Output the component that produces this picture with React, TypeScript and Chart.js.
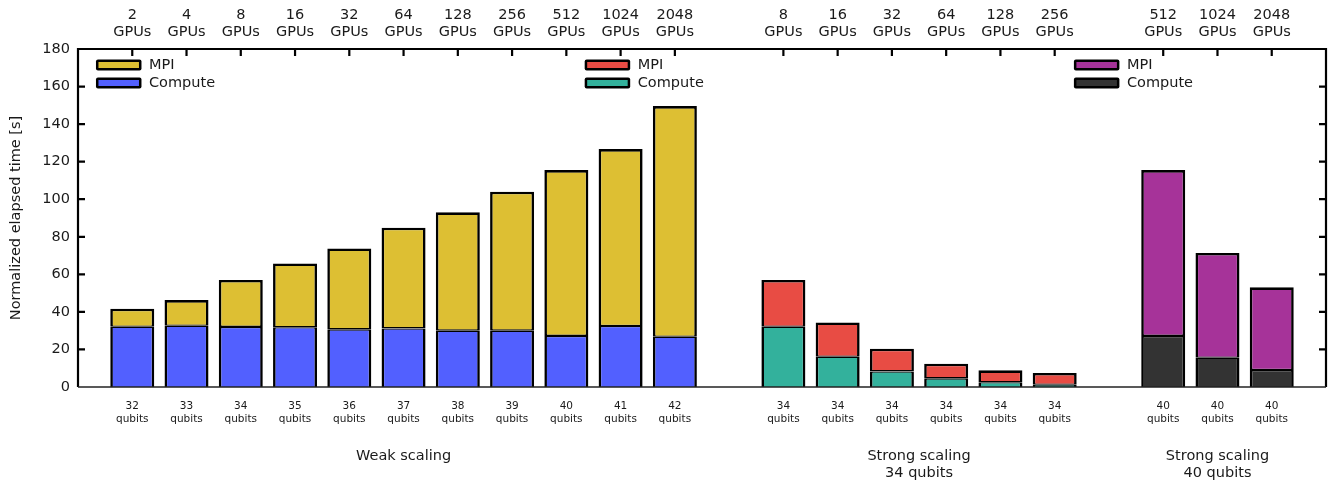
import React, { useEffect, useRef } from "react";
import { Chart, registerables } from "chart.js";

Chart.register(...registerables);

// ---- Data ----
const weakGpus = ["2", "4", "8", "16", "32", "64", "128", "256", "512", "1024", "2048"];
const weakQubits = ["32", "33", "34", "35", "36", "37", "38", "39", "40", "41", "42"];
const weakCompute = [32.1, 32.6, 32.0, 31.8, 30.7, 31.2, 30.0, 30.0, 27.2, 32.5, 26.8];
const weakMpi = [9.6, 13.7, 25.0, 34.0, 43.1, 53.6, 63.0, 74.0, 88.3, 94.2, 122.8];

const strong34Gpus = ["8", "16", "32", "64", "128", "256"];
const strong34Qubits = ["34", "34", "34", "34", "34", "34"];
const strong34Compute = [32.1, 16.1, 8.3, 4.6, 2.5, 1.2];
const strong34Mpi = [24.9, 18.3, 12.1, 7.8, 6.4, 6.3];

const strong40Gpus = ["512", "1024", "2048"];
const strong40Qubits = ["40", "40", "40"];
const strong40Compute = [27.2, 15.6, 9.0];
const strong40Mpi = [88.3, 55.8, 44.1];

const groupTitles = [["Weak scaling"], ["Strong scaling", "34 qubits"], ["Strong scaling", "40 qubits"]];
const seriesNames = ["MPI", "Compute"];
const yTitle = "Normalized elapsed time [s]";
const gpuUnit = "GPUs";
const qubitUnit = "qubits";

// ---- Styles ----
const FONT = "'DejaVu Sans', 'Noto Sans', sans-serif";
const TEXT = "#1a1a1a";
const BIG = 14.5;
const groupColors = [
  { mpi: "#DDBF33", compute: "#5260FF" },
  { mpi: "#E84C44", compute: "#33B19C" },
  { mpi: "#A63399", compute: "#333333" },
];

const groups = [
  { gpus: weakGpus, qubits: weakQubits, compute: weakCompute, mpi: weakMpi },
  { gpus: strong34Gpus, qubits: strong34Qubits, compute: strong34Compute, mpi: strong34Mpi },
  { gpus: strong40Gpus, qubits: strong40Qubits, compute: strong40Compute, mpi: strong40Mpi },
];

// Slot layout: blank slot, group, blank slot, group, ..., blank slot
const topLabels: any[] = [];
const bottomLabels: any[] = [];
const barSlots: number[] = [];
const groupCenters: number[] = [];
const groupStarts: number[] = [];
groups.forEach((g) => {
  topLabels.push("");
  bottomLabels.push("");
  const start = topLabels.length;
  groupStarts.push(start);
  g.gpus.forEach((gp, i) => {
    barSlots.push(topLabels.length);
    topLabels.push([gp, gpuUnit]);
    bottomLabels.push([g.qubits[i], qubitUnit]);
  });
  groupCenters.push(start + (g.gpus.length - 1) / 2);
});
topLabels.push("");
bottomLabels.push("");
const nSlots = topLabels.length;

function padded(gi: number, values: number[]) {
  const arr: (number | null)[] = new Array(nSlots).fill(null);
  values.forEach((v, i) => (arr[groupStarts[gi] + i] = v));
  return arr;
}

const datasets: any[] = [];
groups.forEach((g, gi) => {
  datasets.push({
    label: `${seriesNames[1]} ${gi}`,
    data: padded(gi, g.compute),
    backgroundColor: groupColors[gi].compute,
    borderColor: "#000",
    borderWidth: { top: 1.3, left: 2.6, right: 2.6, bottom: 0 },
    borderSkipped: false,
  });
  datasets.push({
    label: `${seriesNames[0]} ${gi}`,
    data: padded(gi, g.mpi),
    backgroundColor: groupColors[gi].mpi,
    borderColor: "#000",
    borderWidth: { top: 2.6, left: 2.6, right: 2.6, bottom: 1.3 },
    borderSkipped: false,
  });
});

const framePlugin = {
  id: "frame",
  afterDraw(chart: any) {
    const { ctx, chartArea } = chart;
    const { left, right, top, bottom } = chartArea;
    const ys = chart.scales.y;
    const xs = chart.scales.x;
    ctx.save();
    ctx.strokeStyle = "#000";
    ctx.lineWidth = 2.2;
    ctx.beginPath();
    ctx.moveTo(left, bottom);
    ctx.lineTo(left, top);
    ctx.lineTo(right, top);
    ctx.lineTo(right, bottom);
    ctx.stroke();
    ctx.lineWidth = 1.5;
    ctx.strokeStyle = "#222";
    ctx.beginPath();
    ctx.moveTo(left, bottom);
    ctx.lineTo(right, bottom);
    ctx.stroke();
    ctx.lineWidth = 2.2;
    ctx.strokeStyle = "#000";
    ctx.beginPath();
    ys.ticks.forEach((t: any) => {
      if (t.value <= 0 || t.value >= ys.max) return;
      const y = ys.getPixelForValue(t.value);
      ctx.moveTo(left, y);
      ctx.lineTo(left + 7, y);
      ctx.moveTo(right, y);
      ctx.lineTo(right - 7, y);
    });
    barSlots.forEach((s) => {
      const x = xs.getPixelForValue(s);
      ctx.moveTo(x, top);
      ctx.lineTo(x, top + 7);
    });
    ctx.stroke();

    // group titles below the axis
    ctx.font = `${BIG}px ${FONT}`;
    ctx.fillStyle = TEXT;
    ctx.textAlign = "center";
    ctx.textBaseline = "middle";
    groupCenters.forEach((c, gi) => {
      const x = xs.getPixelForValue(c);
      groupTitles[gi].forEach((line, li) => {
        ctx.fillText(line, x, bottom + 69 + li * 17);
      });
    });

    // legends
    const legendFrac = [0.0144, 0.406, 0.798];
    ctx.textAlign = "left";
    legendFrac.forEach((f, gi) => {
      const lx = left + f * (right - left);
      const rows = [
        { y: top + 16, color: groupColors[gi].mpi, text: seriesNames[0] },
        { y: top + 34, color: groupColors[gi].compute, text: seriesNames[1] },
      ];
      rows.forEach((r) => {
        ctx.fillStyle = "#000";
        ctx.beginPath();
        ctx.roundRect(lx, r.y - 5.5, 45.5, 11, 2);
        ctx.fill();
        ctx.fillStyle = r.color;
        ctx.fillRect(lx + 2.5, r.y - 3, 40.5, 6);
        ctx.fillStyle = TEXT;
        ctx.fillText(r.text, lx + 53, r.y + 0.5);
      });
    });
    ctx.restore();
  },
};

export default function App() {
  const ref = useRef<HTMLCanvasElement | null>(null);
  useEffect(() => {
    if (!ref.current) return;
    const chart = new Chart(ref.current, {
      type: "bar",
      data: { labels: bottomLabels, datasets },
      plugins: [framePlugin],
      options: {
        animation: false,
        responsive: false,
        maintainAspectRatio: false,
        devicePixelRatio: 1,
        layout: { padding: { left: 0, right: 6, top: 0, bottom: 0 } },
        plugins: { legend: { display: false }, tooltip: { enabled: false } },
        datasets: { bar: { barThickness: 44, inflateAmount: 0 } as any },
        scales: {
          x: {
            type: "category",
            position: "bottom",
            stacked: true,
            offset: false,
            labels: bottomLabels,
            min: 0,
            max: nSlots - 1,
            grid: { display: false, drawTicks: false },
            border: { display: false },
            ticks: {
              autoSkip: false,
              maxRotation: 0,
              minRotation: 0,
              padding: 13,
              color: TEXT,
              font: { family: FONT, size: 10.5, lineHeight: 1.25 },
            },
            afterFit: (s: any) => {
              s.height = 96;
              s.paddingLeft = 0;
              s.paddingRight = 0;
            },
          } as any,
          xt: {
            type: "category",
            position: "top",
            offset: false,
            labels: topLabels,
            min: 0,
            max: nSlots - 1,
            grid: { display: false, drawTicks: false },
            border: { display: false },
            ticks: {
              autoSkip: false,
              maxRotation: 0,
              padding: 8,
              color: TEXT,
              font: { family: FONT, size: BIG, lineHeight: 1.2 },
            },
            afterFit: (s: any) => {
              s.height = 49;
              s.paddingLeft = 0;
              s.paddingRight = 0;
            },
          } as any,
          y: {
            type: "linear",
            stacked: true,
            min: 0,
            max: 180,
            grid: { display: false, drawTicks: false },
            border: { display: false },
            ticks: {
              stepSize: 20,
              padding: 8,
              color: TEXT,
              font: { family: FONT, size: BIG },
            },
            title: {
              display: true,
              text: yTitle,
              color: TEXT,
              font: { family: FONT, size: 14.5 },
              padding: { top: 8, bottom: 0 },
            },
            afterFit: (s: any) => {
              s.width = 78;
            },
          } as any,
        },
      },
    });
    return () => chart.destroy();
  }, []);
  return (
    <div style={{ position: "fixed", left: 0, top: 0, width: 1332, height: 483, background: "#fff" }}>
      <canvas ref={ref} width={1332} height={483} style={{ display: "block", width: 1332, height: 483 }} />
    </div>
  );
}
